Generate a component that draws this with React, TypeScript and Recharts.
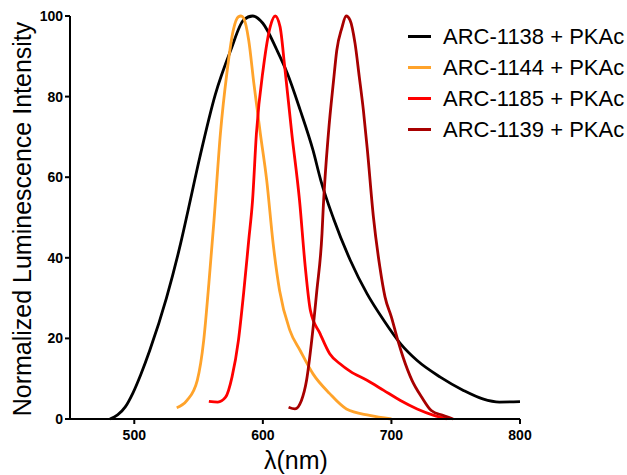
import React from "react";
import { LineChart, Line, XAxis, YAxis, Label } from "recharts";

const FONT = "'Liberation Sans', Arial, Helvetica, sans-serif";

const xTicks = [500, 600, 700, 800];
const yTicks = [0, 20, 40, 60, 80, 100];

const seriesNames = ["ARC-1138 + PKAc", "ARC-1144 + PKAc", "ARC-1185 + PKAc", "ARC-1139 + PKAc"];
const seriesColors = ["#000000", "#FFA32B", "#FF0000", "#A80000"];

// [wavelength nm, normalized intensity]
const arc1138: [number, number][] = [
  [481, 0], [487, 1], [493, 3], [499, 6.5], [505, 11], [512, 17], [525, 30], [536, 43.5],
  [542, 52], [551, 65], [563, 80.5], [575, 91.5], [585, 99], [592, 100], [600, 98.2], [611, 91.5],
  [619, 85.8], [629, 76.7], [639, 66.7], [645, 59.3], [655, 49.7], [668, 39.4], [681, 31.1],
  [694, 24.5], [707, 18.7], [720, 14.5], [738, 10.4], [756, 7.1], [771, 5.0], [784, 4.2], [800, 4.3],
];
const arc1144: [number, number][] = [
  [533, 2.8], [541, 4.6], [549, 9.6], [554, 19.5], [558, 33.6], [562, 49.3], [567, 70.9],
  [572, 85.8], [577, 96.5], [581, 99.8], [583, 100], [585, 99.5], [589, 94], [593, 83.3],
  [598, 70.9], [603, 59.2], [608, 43.5], [613, 31.9], [621, 22], [629, 17], [639, 11.2],
  [652, 6.3], [665, 2.5], [683, 0.9], [700, 0],
];
const arc1185: [number, number][] = [
  [558, 4.4], [565, 4.2], [571, 5.4], [576, 10.4], [581, 19.5], [585, 31.1], [589, 44.3],
  [592, 54.3], [595, 70.9], [600.5, 87.4], [605.7, 97.3], [609.6, 100], [613.4, 97.3],
  [617, 87.4], [622.5, 70.9], [628.5, 54.3], [633, 37.7], [637, 26.9], [644.5, 21.2],
  [652, 16.2], [660, 13.7], [668, 11.8], [681, 9.6], [694, 7.1], [707, 4.6], [720, 2.5],
  [733, 0.9], [743, 0],
];
const arc1139: [number, number][] = [
  [620, 2.9], [625, 2.5], [630, 4.6], [634, 9.6], [638, 19.5], [642, 31.9], [646, 46],
  [647, 52.6], [651, 70.9], [655, 84], [657.5, 91.5], [661.4, 97], [664.8, 100], [667.8, 99],
  [671.7, 93.2], [675, 84.9], [678.2, 76.6], [681.3, 66.7], [686, 50.1], [691, 37.7],
  [695, 30.3], [700, 25.3], [705, 19.5], [709, 15.4], [716, 9.6], [723.6, 5.4], [731, 2.1],
  [740, 0.9], [748, 0],
];

const seriesData = [arc1138, arc1144, arc1185, arc1139].map((arr) =>
  arr.map(([x, y]) => ({ x, y }))
);

function ChartLegend() {
  return (
    <div style={{ position: "absolute", left: 408, top: 21, fontFamily: FONT }}>
      {seriesNames.map((name, i) => (
        <div key={name} style={{ display: "flex", alignItems: "center", height: 31 }}>
          <span
            style={{
              display: "inline-block",
              width: 23,
              height: 3,
              background: seriesColors[i],
              marginRight: 12,
            }}
          />
          <span style={{ fontSize: 22, color: "#000", lineHeight: "31px", whiteSpace: "nowrap" }}>{name}</span>
        </div>
      ))}
    </div>
  );
}

export default function App() {
  const tickStyle = { fontSize: 14, fontWeight: "bold" as const, fill: "#000", fontFamily: FONT };
  return (
    <div style={{ position: "absolute", left: 0, top: 0, width: 627, height: 475, background: "#fff" }}>
      <LineChart width={627} height={475} margin={{ top: 16, right: 107, bottom: 26, left: 10 }}>
        <XAxis
          type="number"
          dataKey="x"
          domain={[450, 800]}
          ticks={xTicks}
          allowDataOverflow
          axisLine={{ stroke: "#000", strokeWidth: 2 }}
          tickLine={{ stroke: "#000", strokeWidth: 2 }}
          tickSize={5}
          tickMargin={6}
          tick={tickStyle}
          height={30}
        >
          <Label
            content={() => (
              <text x={296} y={469} textAnchor="middle" fontSize={25} fontFamily={FONT} fill="#000">
                λ(nm)
              </text>
            )}
          />
        </XAxis>
        <YAxis
          type="number"
          domain={[0, 100]}
          ticks={yTicks}
          axisLine={{ stroke: "#000", strokeWidth: 2 }}
          tickLine={{ stroke: "#000", strokeWidth: 2 }}
          tickSize={5}
          tickMargin={2}
          tick={tickStyle}
          width={60}
        >
          <Label
            content={() => (
              <text
                x={0}
                y={0}
                transform="translate(31 219) rotate(-90)"
                textAnchor="middle"
                fontSize={25}
                fontFamily={FONT}
                fill="#000"
              >
                Normalized Luminescence Intensity
              </text>
            )}
          />
        </YAxis>
        {seriesData.map((d, i) => (
          <Line
            key={seriesNames[i]}
            name={seriesNames[i]}
            data={d}
            dataKey="y"
            type="monotone"
            stroke={seriesColors[i]}
            strokeWidth={2.8}
            dot={false}
            isAnimationActive={false}
          />
        ))}
      </LineChart>
      <ChartLegend />
    </div>
  );
}
